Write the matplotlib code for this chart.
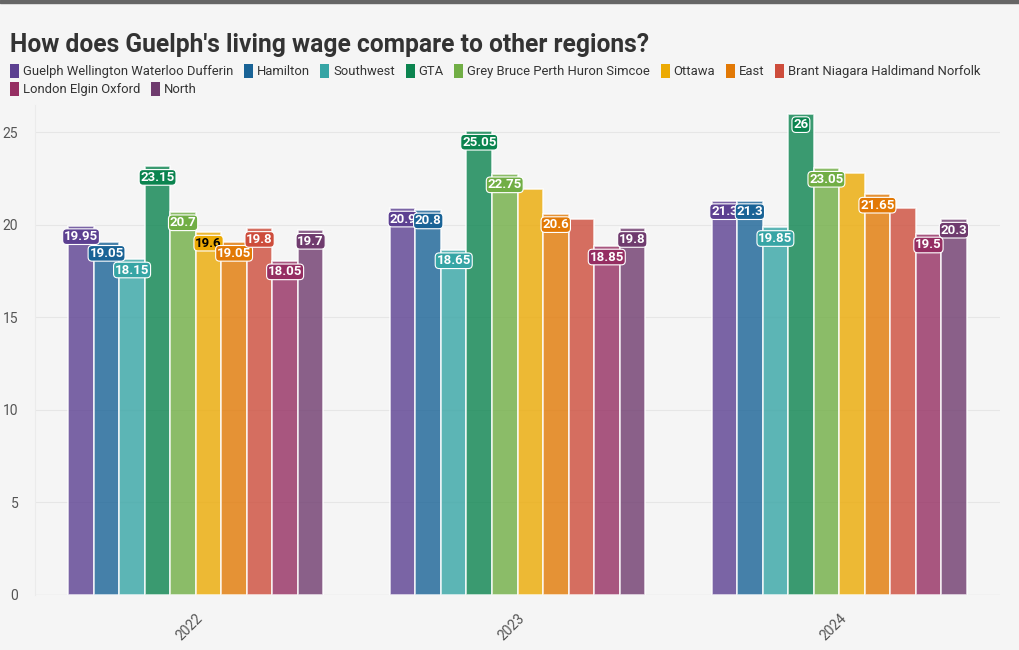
import numpy as np
import matplotlib.pyplot as plt
from matplotlib.patches import Patch, Rectangle

# data
years = ['2022', '2023', '2024']
regions = ['Guelph Wellington Waterloo Dufferin', 'Hamilton', 'Southwest', 'GTA',
           'Grey Bruce Perth Huron Simcoe', 'Ottawa', 'East',
           'Brant Niagara Haldimand Norfolk', 'London Elgin Oxford', 'North']
wages = [
    [19.95, 20.9, 21.3],   # Guelph Wellington Waterloo Dufferin
    [19.05, 20.8, 21.3],   # Hamilton
    [18.15, 18.65, 19.85], # Southwest
    [23.15, 25.05, 26],    # GTA
    [20.7, 22.75, 23.05],  # Grey Bruce Perth Huron Simcoe
    [19.6, 21.9, 22.8],    # Ottawa
    [19.05, 20.6, 21.65],  # East
    [19.8, 20.3, 20.9],    # Brant Niagara Haldimand Norfolk
    [18.05, 18.85, 19.5],  # London Elgin Oxford
    [19.7, 19.8, 20.3],    # North
]
# which bars carry a value label
shown = [
    [1, 1, 1], [1, 1, 1], [1, 1, 1], [1, 1, 1], [1, 1, 1],
    [1, 0, 0], [1, 1, 1], [1, 0, 0], [1, 1, 1], [1, 1, 1],
]
colors = ['#5c4091', '#196396', '#36a5a5', '#0b844f', '#71ae45',
          '#ecaa04', '#e27905', '#cd4c3b', '#952e62', '#6f3b6e']

bg = '#f5f5f5'
plt.rcParams['font.family'] = ['Roboto', 'DejaVu Sans']

fig = plt.figure(figsize=(10.2, 6.5), dpi=100, facecolor=bg)
ax = fig.add_axes([35 / 1020, 55 / 650, 965 / 1020, 490 / 650], facecolor=bg)

# top strip
fig.patches.append(Rectangle((0, 1 - 3 / 650), 1, 3 / 650, transform=fig.transFigure,
                             color='#666666', zorder=10))

x = np.arange(len(years))
slot = 0.0793
for i, region in enumerate(regions):
    pos = x + (i - 4.5) * slot
    ax.bar(pos, wages[i], width=slot, color=colors[i], alpha=0.8,
           edgecolor='white', linewidth=1.2, zorder=3)
    for j in range(len(years)):
        if not shown[i][j]:
            continue
        txt_color = 'black' if (i == 5) else 'white'
        ax.annotate(f'{wages[i][j]:g}', (pos[j], wages[i][j]), xytext=(0, -8),
                    textcoords='offset points', ha='center', va='center',
                    fontsize=9.5, fontweight='bold', color=txt_color, zorder=5,
                    bbox=dict(boxstyle='round,pad=0.1,rounding_size=0.3',
                              fc=colors[i], ec='white', lw=0.8))

ax.set_xlim(-0.5, 2.5)
ax.set_ylim(0, 26.46)
ax.set_yticks([0, 5, 10, 15, 20, 25])
ax.set_xticks(x)
ax.set_xticklabels(years, rotation=45, ha='right', rotation_mode='anchor')
ax.tick_params(axis='both', length=0, labelsize=10, colors='#555555')
ax.tick_params(axis='x', pad=12)
ax.tick_params(axis='y', pad=12)
ax.grid(axis='y', color='#e6e6e6', linewidth=0.8, zorder=0)
for s in ['top', 'right', 'bottom']:
    ax.spines[s].set_visible(False)
ax.spines['left'].set_color('#ebebeb')
ax.axhline(0, color='#e6e6e6', linewidth=1, zorder=1)

fig.text(10 / 1020, 1 - 45 / 650, "How does Guelph's living wage compare to other regions?",
         fontsize=17.7, fontweight='bold', color='#333333', va='center')

handles = [Patch(facecolor=c, edgecolor='none') for c in colors]
leg_kw = dict(frameon=False, fontsize=9.4, handlelength=0.7, handleheight=1.3,
              handletextpad=0.3, columnspacing=0.8, borderaxespad=0, borderpad=0,
              labelcolor='#333333')
fig.legend(handles[:8], regions[:8], ncol=8, loc='upper left',
           bbox_to_anchor=(10 / 1020, 1 - 64 / 650), **leg_kw)
fig.legend(handles[8:], regions[8:], ncol=2, loc='upper left',
           bbox_to_anchor=(10 / 1020, 1 - 82 / 650), **leg_kw)

fig.savefig('out.png', dpi=100, facecolor=bg)
